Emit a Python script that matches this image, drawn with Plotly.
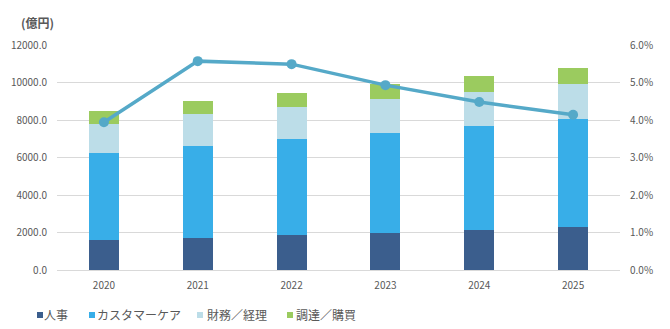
import plotly.graph_objects as go

years = ["2020", "2021", "2022", "2023", "2024", "2025"]
hr = [1600, 1700, 1850, 2000, 2150, 2300]
cx_top = [6250, 6600, 7000, 7300, 7700, 8050]
fin_top = [7800, 8300, 8700, 9100, 9500, 9900]
proc_top = [8500, 9000, 9450, 9900, 10350, 10800]
ratio = [0.0394, 0.0557, 0.0549, 0.0493, 0.0448, 0.0414]

cx = [b - a for a, b in zip(hr, cx_top)]
fin = [b - a for a, b in zip(cx_top, fin_top)]
proc = [b - a for a, b in zip(fin_top, proc_top)]

names = ["人事", "カスタマーケア", "財務／経理", "調達／購買"]
colors = ["#3b5e8d", "#38aee8", "#bcdde8", "#9bcb5f"]
series = [hr, cx, fin, proc]
legend_ids = ["legend", "legend2", "legend3", "legend4"]
legend_text_px = [45, 98, 208, 297]
legend_swatch_px = [40, 92, 200, 290]

W, H = 670, 329
ML, MR, MT, MB = 57, 50, 45, 59
PW, PH = W - ML - MR, H - MT - MB
LEG_Y = 315
font_fam = "Noto Sans CJK JP, Open Sans, sans-serif"
gray = "#595959"

fig = go.Figure()
for n, c, s, lg in zip(names, colors, series, legend_ids):
    fig.add_trace(go.Bar(x=years, y=s, name=n, marker=dict(color=c, line=dict(width=0)),
                         showlegend=False))
    fig.add_trace(go.Scatter(x=[None], y=[None], mode="markers", name=n, legend=lg,
                             marker=dict(symbol="square", size=6, color="rgba(0,0,0,0)"),
                             showlegend=True))

fig.add_trace(go.Scatter(x=years, y=ratio, yaxis="y2", mode="lines+markers",
                         line=dict(color="#55a9c8", width=3.5),
                         marker=dict(color="#55a9c8", size=10), showlegend=False))

layout_legends = {}
for lg, xp in zip(legend_ids, legend_text_px):
    layout_legends[lg] = dict(orientation="h", x=(xp - 41) / W, xanchor="left", xref="container",
                              y=1 - LEG_Y / H, yanchor="middle", yref="container",
                              font=dict(size=12, color=gray), itemwidth=30,
                              bgcolor="rgba(0,0,0,0)")

def px_to_paper_x(p):
    return (p - ML) / PW

def px_to_paper_y(p):
    return (H - MB - p) / PH

shapes = []
for c, cxp in zip(colors, legend_swatch_px):
    shapes.append(dict(type="rect", xref="paper", yref="paper",
                       x0=px_to_paper_x(cxp - 3), x1=px_to_paper_x(cxp + 3),
                       y0=px_to_paper_y(LEG_Y + 3), y1=px_to_paper_y(LEG_Y - 3),
                       fillcolor=c, line=dict(width=0)))

fig.update_layout(
    width=W, height=H,
    barmode="stack", bargap=0.68,
    plot_bgcolor="white", paper_bgcolor="white",
    margin=dict(l=ML, r=MR, t=MT, b=MB, autoexpand=False),
    font=dict(family=font_fam, size=10, color=gray),
    xaxis=dict(showgrid=False, ticks="", showline=False, ticklabelstandoff=8,
               tickfont=dict(size=10)),
    yaxis=dict(range=[0, 12000], dtick=2000, tickformat=".1f", showgrid=True,
               gridcolor="#d9d9d9", gridwidth=1, zeroline=True, zerolinecolor="#d9d9d9",
               zerolinewidth=1, ticks="", ticklabelstandoff=9, tickfont=dict(size=10)),
    yaxis2=dict(range=[0, 0.06], dtick=0.01, tickformat=".1%", overlaying="y", side="right",
                showgrid=False, zeroline=False, ticks="", ticklabelstandoff=9,
                tickfont=dict(size=10)),
    annotations=[dict(text="<b>(億円)</b>", x=px_to_paper_x(19), y=px_to_paper_y(22),
                      xref="paper", yref="paper", xanchor="left", yanchor="middle",
                      showarrow=False, font=dict(size=12, color=gray))],
    shapes=shapes,
    **layout_legends,
)

fig.write_html("out.html")
